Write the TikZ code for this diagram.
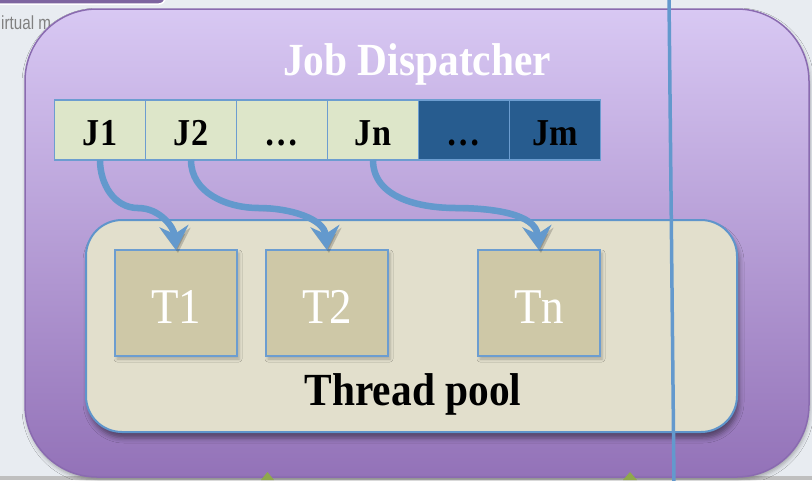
\documentclass[tikz,border=0pt]{standalone}
\usepackage{fontspec}
\setmainfont{Liberation Serif}[FakeStretch=0.9]
\newfontfamily\uisans{Liberation Sans}[FakeStretch=0.8]
\usetikzlibrary{arrows.meta,shadows.blur,calc}

\definecolor{pagebg}{HTML}{E8ECF1}
\definecolor{barpurple}{HTML}{7E65A0}
\definecolor{paneltop}{HTML}{D8C8F3}
\definecolor{panelbot}{HTML}{9372B8}
\definecolor{panelrim}{HTML}{8A6BB0}
\definecolor{cellfill}{HTML}{DDE6C9}
\definecolor{celldark}{HTML}{275C8F}
\definecolor{cellrim}{HTML}{6C9DD0}
\definecolor{poolfill}{HTML}{E2DFCC}
\definecolor{poolrim}{HTML}{5F95CB}
\definecolor{threadfill}{HTML}{CEC8A7}
\definecolor{flowblue}{HTML}{6399CD}
\definecolor{tipgreen}{HTML}{8FA84C}

\begin{document}
\begin{tikzpicture}[x=1pt,y=1pt,
  cell/.style={draw=cellrim, line width=1.8pt, fill=cellfill,
    minimum width=91pt, minimum height=60pt, inner sep=0pt, outer sep=0pt,
    text height=31pt, text depth=0pt,
    font=\bfseries\fontsize{38}{38}\selectfont},
  darkcell/.style={cell, fill=celldark},
  thread/.style={draw=cellrim, line width=1.6pt, fill=threadfill,
    minimum width=122pt, minimum height=106pt, inner sep=0pt, outer sep=0pt,
    text=white, text height=40pt, text depth=0pt,
    font=\fontsize{50}{50}\selectfont,
    blur shadow={shadow xshift=2pt, shadow yshift=-3pt, shadow blur radius=3pt, shadow opacity=25}},
  jobarrow/.style={draw=flowblue, line width=6.5pt,
    -{Stealth[length=24pt, width=29pt, inset=8pt]},
    preaction={draw=black, opacity=0.18, transform canvas={shift={(2pt,-3pt)}}}},
  divider/.style={draw=flowblue, line width=3.5pt},
  title/.style={font=\bfseries\fontsize{46}{46}\selectfont, anchor=base}
]
\useasboundingbox (0,0) rectangle (812,-480);
\clip (0,0) rectangle (812,-480);

% page background and bottom strip
\fill[pagebg] (0,0) rectangle (812,-480);
\fill[black!25] (0,-476) rectangle (812,-480);

% tab of the slide above
\draw[fill=barpurple, draw=white, line width=1.5pt, rounded corners=6pt]
  (-20,20) rectangle (165,-4);
\node[anchor=base west, inner sep=0pt, text=black!50,
  font=\uisans\fontsize{19}{19}\selectfont] (caption) at (1,-29) {irtual m};

% dispatcher panel
\node (panel) [draw=panelrim, line width=1.5pt, rounded corners=72pt,
  top color=paneltop, bottom color=panelbot,
  minimum width=784pt, minimum height=468pt, inner sep=0pt,
  blur shadow={shadow xshift=1pt, shadow yshift=-3pt, shadow blur radius=4pt, shadow opacity=30}]
  at (417,-243) {};
\node[title, text=white] (dispatch) at (417,-75) {Job Dispatcher};

% job queue
\node[cell]     (J1) at (100,-130) {J1};
\node[cell]     (J2) at (191,-130) {J2};
\node[cell]     (Jd) at (282,-130) {…};
\node[cell]     (Jn) at (373,-130) {Jn};
\node[darkcell] (Je) at (464,-130) {…};
\node[darkcell] (Jm) at (555,-130) {Jm};

% thread pool
\node (pool) [draw=poolrim, line width=2pt, fill=poolfill, rounded corners=36pt,
  minimum width=651pt, minimum height=212pt, inner sep=0pt,
  blur shadow={shadow xshift=2pt, shadow yshift=-6pt, shadow blur radius=5pt, shadow opacity=45}]
  at (411.5,-326) {};
\node[thread] (T1) at (176,-303) {T1};
\node[thread] (T2) at (327,-303) {T2};
\node[thread] (Tn) at (539,-303) {Tn};
\node[title, text=black] (poolname) at (413,-405) {Thread pool};

% jobs handed to threads
\draw[jobarrow] (J1.south) to[out=-90,in=180] ($(J1.south)!0.5!(T1.north)+(0,-3)$)
  to[out=0,in=95] (T1.north);
\draw[jobarrow] (J2.south) to[out=-90,in=180] ($(J2.south)!0.5!(T2.north)+(0,-3)$)
  to[out=0,in=95] (T2.north);
\draw[jobarrow] (Jn.south) to[out=-90,in=180] ($(Jn.south)!0.5!(Tn.north)+(0,-3)$)
  to[out=0,in=95] (Tn.north);

% vertical divider line
\coordinate (divtop) at (669,2);
\coordinate (divbot) at (674,-482);
\draw[divider] (divtop) -- (divbot);

% tips of arrows coming from below
\fill[tipgreen] (261,-480) -- (267.5,-472) -- (274,-480) -- cycle;
\fill[tipgreen] (623,-480) -- (630,-472) -- (637,-480) -- cycle;
\end{tikzpicture}
\end{document}
